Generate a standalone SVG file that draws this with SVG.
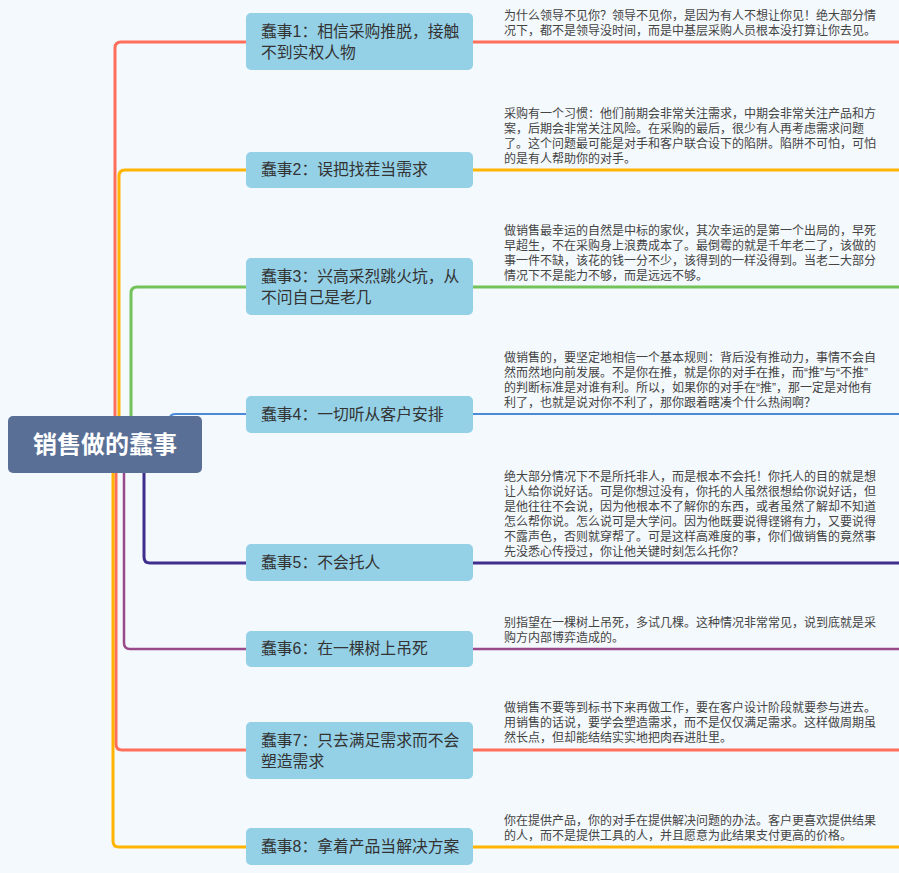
<svg xmlns="http://www.w3.org/2000/svg" width="899" height="873" viewBox="0 0 899 873">
<style>
.n{fill:#94d0e6}
.nt{font-family:"Liberation Sans","Noto Sans CJK SC",sans-serif;font-size:15.8px;fill:#333}
.d{font-family:"Liberation Sans","Noto Sans CJK SC",sans-serif;font-size:12px;fill:#444}
.c{fill:none;stroke-linejoin:round}
</style>
<rect width="899" height="873" fill="#f4f9fd"/>
<g id="connectors">
<path class="c" d="M115 470 V48 Q115 42 121 42 H246 M473 42 H899" stroke="#ff6f5a" stroke-width="3"/>
<path class="c" d="M119 470 V176 Q119 170 125 170 H246 M473 170 H899" stroke="#ffb400" stroke-width="3"/>
<path class="c" d="M131 420 V293 Q131 287 137 287 H246 M473 287 H899" stroke="#72c35a" stroke-width="3"/>
<path class="c" d="M170 418 Q170 414 176 414 H246 M473 414 H899" stroke="#4a8ad8" stroke-width="2"/>
<path class="c" d="M144 470 V557 Q144 563 150 563 H246 M473 563 H899" stroke="#3e2f8e" stroke-width="3"/>
<path class="c" d="M124 470 V643 Q124 649 130 649 H246 M473 649 H899" stroke="#9a4a8a" stroke-width="2.5"/>
<path class="c" d="M116 470 V744 Q116 750 122 750 H246 M473 750 H899" stroke="#ff6f5a" stroke-width="3"/>
<path class="c" d="M113 470 V841 Q113 847 119 847 H246 M473 847 H899" stroke="#ffb400" stroke-width="3"/>
</g>
<g id="root"><rect x="8" y="416" width="194" height="57" rx="5" fill="#5a6f96"/><text x="105" y="453" text-anchor="middle" font-family="Liberation Sans,'Noto Sans CJK SC',sans-serif" font-size="24" font-weight="bold" fill="#fff">销售做的蠢事</text></g>
<g id="n1"><rect class="n" x="246" y="13" width="227" height="57" rx="5"/><text class="nt" x="261" y="37">蠢事1：相信采购推脱，接触</text><text class="nt" x="261" y="58">不到实权人物</text>
<text class="d" x="504" y="20">为什么领导不见你？领导不见你，是因为有人不想让你见！绝大部分情</text><text class="d" x="504" y="35">况下，都不是领导没时间，而是中基层采购人员根本没打算让你去见。</text></g>
<g id="n2"><rect class="n" x="246" y="152" width="227" height="36" rx="5"/><text class="nt" x="261" y="175">蠢事2：误把找茬当需求</text>
<text class="d" x="504" y="118">采购有一个习惯：他们前期会非常关注需求，中期会非常关注产品和方</text><text class="d" x="504" y="133">案，后期会非常关注风险。在采购的最后，很少有人再考虑需求问题</text><text class="d" x="504" y="148">了。这个问题最可能是对手和客户联合设下的陷阱。陷阱不可怕，可怕</text><text class="d" x="504" y="163">的是有人帮助你的对手。</text></g>
<g id="n3"><rect class="n" x="246" y="258" width="227" height="57" rx="5"/><text class="nt" x="261" y="282">蠢事3：兴高采烈跳火坑，从</text><text class="nt" x="261" y="303">不问自己是老几</text>
<text class="d" x="504" y="235">做销售最幸运的自然是中标的家伙，其次幸运的是第一个出局的，早死</text><text class="d" x="504" y="250">早超生，不在采购身上浪费成本了。最倒霉的就是千年老二了，该做的</text><text class="d" x="504" y="265">事一件不缺，该花的钱一分不少，该得到的一样没得到。当老二大部分</text><text class="d" x="504" y="280">情况下不是能力不够，而是远远不够。</text></g>
<g id="n4"><rect class="n" x="246" y="396" width="227" height="37" rx="5"/><text class="nt" x="261" y="420">蠢事4：一切听从客户安排</text>
<text class="d" x="504" y="362">做销售的，要坚定地相信一个基本规则：背后没有推动力，事情不会自</text><text class="d" x="504" y="377">然而然地向前发展。不是你在推，就是你的对手在推，而“推”与“不推”</text><text class="d" x="504" y="392">的判断标准是对谁有利。所以，如果你的对手在“推”，那一定是对他有</text><text class="d" x="504" y="407">利了，也就是说对你不利了，那你跟着瞎凑个什么热闹啊？</text></g>
<g id="n5"><rect class="n" x="246" y="544" width="227" height="37" rx="5"/><text class="nt" x="261" y="568">蠢事5：不会托人</text>
<text class="d" x="504" y="481">绝大部分情况下不是所托非人，而是根本不会托！你托人的目的就是想</text><text class="d" x="504" y="496">让人给你说好话。可是你想过没有，你托的人虽然很想给你说好话，但</text><text class="d" x="504" y="511">是他往往不会说，因为他根本不了解你的东西，或者虽然了解却不知道</text><text class="d" x="504" y="526">怎么帮你说。怎么说可是大学问。因为他既要说得铿锵有力，又要说得</text><text class="d" x="504" y="541">不露声色，否则就穿帮了。可是这样高难度的事，你们做销售的竟然事</text><text class="d" x="504" y="556">先没悉心传授过，你让他关键时刻怎么托你？</text></g>
<g id="n6"><rect class="n" x="246" y="631" width="227" height="36" rx="5"/><text class="nt" x="261" y="654">蠢事6：在一棵树上吊死</text>
<text class="d" x="504" y="627">别指望在一棵树上吊死，多试几棵。这种情况非常常见，说到底就是采</text><text class="d" x="504" y="642">购方内部博弈造成的。</text></g>
<g id="n7"><rect class="n" x="246" y="722" width="227" height="57" rx="5"/><text class="nt" x="261" y="746">蠢事7：只去满足需求而不会</text><text class="nt" x="261" y="767">塑造需求</text>
<text class="d" x="504" y="712">做销售不要等到标书下来再做工作，要在客户设计阶段就要参与进去。</text><text class="d" x="504" y="727">用销售的话说，要学会塑造需求，而不是仅仅满足需求。这样做周期虽</text><text class="d" x="504" y="742">然长点，但却能结结实实地把肉吞进肚里。</text></g>
<g id="n8"><rect class="n" x="246" y="828" width="227" height="37" rx="5"/><text class="nt" x="261" y="852">蠢事8：拿着产品当解决方案</text>
<text class="d" x="504" y="825">你在提供产品，你的对手在提供解决问题的办法。客户更喜欢提供结果</text><text class="d" x="504" y="840">的人，而不是提供工具的人，并且愿意为此结果支付更高的价格。</text></g>
</svg>
